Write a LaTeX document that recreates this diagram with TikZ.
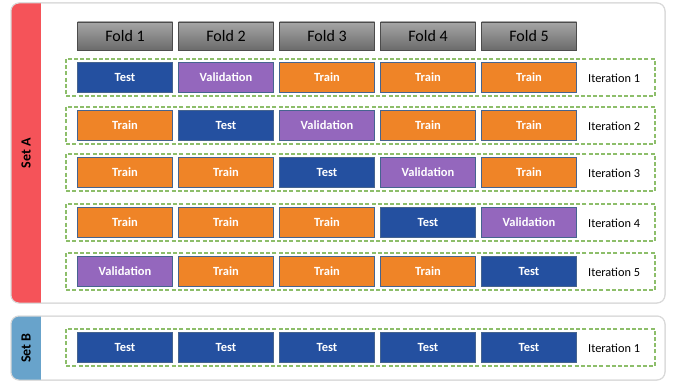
\documentclass[tikz,border=0pt]{standalone}
\usepackage{fontspec}
\setmainfont{Carlito}
\definecolor{testblue}{HTML}{2450A0}
\definecolor{valpurple}{HTML}{9467BD}
\definecolor{trainorange}{HTML}{EF8427}
\definecolor{boxline}{HTML}{46648F}
\definecolor{dashgreen}{HTML}{8DBE6A}
\definecolor{setared}{HTML}{F55359}
\definecolor{setbblue}{HTML}{68A3CB}
\begin{document}
\begin{tikzpicture}[
  x=1pt, y=-1pt,
  cell/.style={draw=boxline, line width=0.8pt, minimum width=95pt, minimum height=30pt,
    inner sep=0pt, text=white, font=\fontsize{12.5}{14}\selectfont\bfseries},
  testcell/.style={cell, fill=testblue},
  valcell/.style={cell, fill=valpurple},
  traincell/.style={cell, fill=trainorange},
  foldcell/.style={draw=black!70, line width=0.8pt, minimum width=95pt, minimum height=28pt,
    inner sep=0pt, top color=black!35, bottom color=black!58, font=\fontsize{16}{18}\selectfont},
  iterlabel/.style={anchor=west, inner sep=0pt, font=\fontsize{12.3}{14}\selectfont},
  rowbox/.style={draw=dashgreen, dash pattern=on 4pt off 2.2pt, line width=1.1pt},
  panel/.style={draw=black!15, line width=1pt, rounded corners=8pt},
  setlabel/.style={rotate=90, font=\fontsize{14}{16}\selectfont\bfseries},
]
\useasboundingbox (0,0) rectangle (675,382);

% panels
\fill[white, panel] (11,3) rectangle (665,303);
\begin{scope}
  \clip[rounded corners=8pt] (11,3) rectangle (665,303);
  \fill[setared] (11,3) rectangle (41,303);
\end{scope}
\draw[panel] (11,3) rectangle (665,303);
\node[setlabel] (setA) at (26,153) {Set A};

\fill[white, panel] (11,316) rectangle (665,380);
\begin{scope}
  \clip[rounded corners=8pt] (11,316) rectangle (665,380);
  \fill[setbblue] (11,316) rectangle (41,380);
\end{scope}
\draw[panel] (11,316) rectangle (665,380);
\node[setlabel] (setB) at (26,348) {Set B};

% fold headers
\node[foldcell] (f1) at (125,36) {Fold 1};
\node[foldcell] (f2) at (226,36) {Fold 2};
\node[foldcell] (f3) at (327,36) {Fold 3};
\node[foldcell] (f4) at (428,36) {Fold 4};
\node[foldcell] (f5) at (529,36) {Fold 5};

% iteration 1
\draw[rowbox] (66,59) rectangle (655,96);
\node[testcell]  (a11) at (125,77) {Test};
\node[valcell]   (a12) at (226,77) {Validation};
\node[traincell] (a13) at (327,77) {Train};
\node[traincell] (a14) at (428,77) {Train};
\node[traincell] (a15) at (529,77) {Train};
\node[iterlabel] (it1) at (588,78) {Iteration 1};

% iteration 2
\draw[rowbox] (66,107) rectangle (655,144);
\node[traincell] (a21) at (125,125.5) {Train};
\node[testcell]  (a22) at (226,125.5) {Test};
\node[valcell]   (a23) at (327,125.5) {Validation};
\node[traincell] (a24) at (428,125.5) {Train};
\node[traincell] (a25) at (529,125.5) {Train};
\node[iterlabel] (it2) at (588,126.5) {Iteration 2};

% iteration 3
\draw[rowbox] (66,154) rectangle (655,191);
\node[traincell] (a31) at (125,172.5) {Train};
\node[traincell] (a32) at (226,172.5) {Train};
\node[testcell]  (a33) at (327,172.5) {Test};
\node[valcell]   (a34) at (428,172.5) {Validation};
\node[traincell] (a35) at (529,172.5) {Train};
\node[iterlabel] (it3) at (588,173.5) {Iteration 3};

% iteration 4
\draw[rowbox] (66,204) rectangle (655,241);
\node[traincell] (a41) at (125,222.5) {Train};
\node[traincell] (a42) at (226,222.5) {Train};
\node[traincell] (a43) at (327,222.5) {Train};
\node[testcell]  (a44) at (428,222.5) {Test};
\node[valcell]   (a45) at (529,222.5) {Validation};
\node[iterlabel] (it4) at (588,223.5) {Iteration 4};

% iteration 5
\draw[rowbox] (66,253) rectangle (655,290);
\node[valcell]   (a51) at (125,271.5) {Validation};
\node[traincell] (a52) at (226,271.5) {Train};
\node[traincell] (a53) at (327,271.5) {Train};
\node[traincell] (a54) at (428,271.5) {Train};
\node[testcell]  (a55) at (529,271.5) {Test};
\node[iterlabel] (it5) at (588,272.5) {Iteration 5};

% set B
\draw[rowbox] (66,329) rectangle (655,366);
\node[testcell]  (b1) at (125,347.5) {Test};
\node[testcell]  (b2) at (226,347.5) {Test};
\node[testcell]  (b3) at (327,347.5) {Test};
\node[testcell]  (b4) at (428,347.5) {Test};
\node[testcell]  (b5) at (529,347.5) {Test};
\node[iterlabel] (itB) at (588,348.5) {Iteration 1};
\end{tikzpicture}
\end{document}
